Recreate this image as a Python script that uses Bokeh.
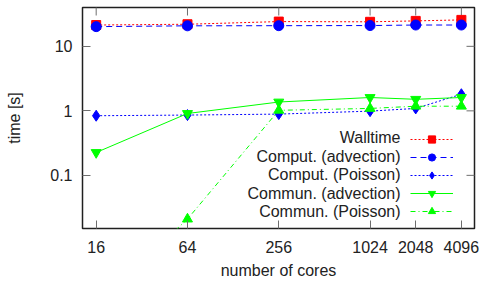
import math
from bokeh.plotting import figure
from bokeh.models import Range1d, FixedTicker, Legend, LegendItem, Label
from bokeh.embed import file_html
from bokeh.resources import INLINE

cores = [16, 64, 256, 1024, 2048, 4096]
walltime = [21.4, 22.0, 24.2, 24.0, 24.8, 25.7]
comp_adv = [20.2, 20.8, 20.9, 21.0, 21.4, 21.4]
comp_poi = [0.84, 0.86, 0.89, 0.99, 1.09, 1.81]
comm_adv = [0.226, 0.91, 1.37, 1.61, 1.51, 1.61]
comm_poi = [0.001, 0.021, 1.02, 1.09, 1.18, 1.18]

x_ticks = [16, 64, 256, 1024, 2048, 4096]
x_tick_labels = ["16", "64", "256", "1024", "2048", "4096"]
y_ticks = [0.1, 1, 10]
y_tick_labels = ["0.1", "1", "10"]

series_names = ["Walltime", "Comput. (advection)", "Comput. (Poisson)",
                "Commun. (advection)", "Commun. (Poisson)"]

FONT = "Liberation Sans"
TXT = "#222222"
TICK = "#6e6e6e"

p = figure(width=483, height=282, output_backend="svg", toolbar_location=None,
           x_axis_type="log", y_axis_type="log",
           x_range=Range1d(13, 5000), y_range=Range1d(0.015, 40),
           min_border_left=82, min_border_right=9, min_border_top=7, min_border_bottom=54)
p.xgrid.visible = False
p.ygrid.visible = False
p.outline_line_color = "#202020"
p.outline_line_width = 1.5
p.background_fill_color = "white"
p.border_fill_color = "white"

def style_axis(ax, ticks, labels):
    ax.ticker = FixedTicker(ticks=ticks, minor_ticks=[])
    ax.major_label_overrides = {t: l for t, l in zip(ticks, labels)}
    ax.axis_line_alpha = 0
    ax.major_tick_in = 8
    ax.major_tick_out = 0
    ax.major_tick_line_color = TICK
    ax.major_tick_line_width = 1
    ax.minor_tick_line_alpha = 0
    ax.major_label_text_font = FONT
    ax.major_label_text_color = TXT
    ax.major_label_text_font_size = "16px"
    ax.axis_label_text_font = FONT
    ax.axis_label_text_font_style = "normal"
    ax.axis_label_text_color = TXT
    ax.axis_label_text_font_size = "16px"

xa = p.xaxis[0]
style_axis(xa, x_ticks, x_tick_labels)
xa.major_label_standoff = 12
xa.axis_label = "number of cores"
xa.axis_label_standoff = 6

ya = p.yaxis[0]
style_axis(ya, y_ticks, y_tick_labels)
ya.major_label_standoff = 10
ya.axis_label = "time [s]"
ya.axis_label_standoff = 24

# mirrored ticks on top and right edges (half of each dash is clipped by the frame)
p.scatter(x_ticks, [p.y_range.end] * len(x_ticks), marker="dash", angle=math.pi / 2,
          size=16, line_color=TICK, line_width=1)
p.scatter([p.x_range.end] * len(y_ticks), y_ticks, marker="dash",
          size=16, line_color=TICK, line_width=1)

RED = "#ff0000"
BLUE = "#0000ff"
GREEN = "#00ff00"

specs = [
    (walltime, RED, "2 2", "square", 9),
    (comp_adv, BLUE, "6 4", "circle", 10),
    (comp_poi, BLUE, "2 2", "diamond", 11),
    (comm_adv, GREEN, "solid", "inverted_triangle", 10),
    (comm_poi, GREEN, "5 3 1 3", "triangle", 10),
]

items = []
for vals, col, dash, marker, size in specs:
    lr = p.line(cores, vals, line_color=col, line_width=1, line_dash=dash)
    sr = p.scatter(cores, vals, marker=marker, size=size, fill_color=col, line_color=col)
    items.append(LegendItem(label="", renderers=[lr, sr]))

legend = Legend(items=items, location=(328, 8), padding=0, margin=0,
                border_line_alpha=0, background_fill_alpha=0,
                glyph_width=43, glyph_height=18, spacing=0,
                label_standoff=0, label_width=0, label_height=0,
                label_text_font_size="0px")
p.add_layout(legend, "center")

for i, name in enumerate(series_names):
    yy = 8 + 9 + 18.4 * (len(series_names) - 1 - i)
    p.add_layout(Label(x=318, y=yy, x_units="screen", y_units="screen", text=name,
                       text_align="right", text_baseline="middle",
                       text_font=FONT, text_font_size="16px", text_color=TXT))

open("out.html", "w").write(file_html(p, INLINE))
